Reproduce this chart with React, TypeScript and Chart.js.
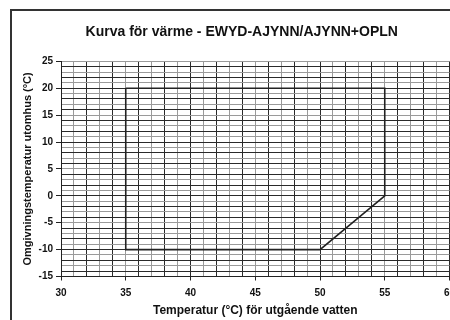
import React, { useEffect, useRef } from "react";
import { Chart, registerables } from "chart.js";

Chart.register(...registerables);

const chartTitle = "Kurva för värme - EWYD-AJYNN/AJYNN+OPLN";
const xAxisTitle = "Temperatur (°C) för utgående vatten";
const yAxisTitle = "Omgivningstemperatur utomhus (°C)";

// Operating envelope corners (outlet water temp, ambient temp)
const outletTemp = [35, 55, 55, 50, 35, 35];
const ambientTemp = [20, 20, 0, -10, -10, 20];

const xMin = 30;
const xMax = 60;
const yMin = -15;
const yMax = 25;
const labelStep = 5;

const FONT = "'Liberation Sans', Arial, sans-serif";

export default function App() {
  const canvasRef = useRef<HTMLCanvasElement | null>(null);

  useEffect(() => {
    const canvas = canvasRef.current;
    if (!canvas) return;
    const points = outletTemp.map((x, i) => ({ x, y: ambientTemp[i] }));
    const gridColor = (ctx: any) => {
      const v = ctx.tick ? ctx.tick.value : 0;
      return Math.abs(v) % 2 === 0 ? "#2a2a2a" : "#9a9a9a";
    };
    const tickColor = (ctx: any) => {
      const v = ctx.tick ? ctx.tick.value : 0;
      return v % labelStep === 0 ? "#222" : "rgba(0,0,0,0)";
    };
    const chart = new Chart(canvas, {
      type: "scatter",
      data: {
        datasets: [
          {
            data: points,
            showLine: true,
            borderColor: "#222",
            borderWidth: 1.6,
            pointRadius: 0,
            fill: false,
          },
        ],
      },
      options: {
        animation: false,
        responsive: false,
        devicePixelRatio: 1,
        layout: { padding: { left: 22, right: 22.5, top: 0, bottom: 0 } },
        plugins: {
          legend: { display: false },
          tooltip: { enabled: false },
          title: {
            display: true,
            text: chartTitle,
            color: "#111",
            font: { family: FONT, size: 14, weight: "bold" },
            padding: { top: 13.1, bottom: 20.4 },
          },
        },
        scales: {
          x: {
            type: "linear",
            min: xMin,
            max: xMax,
            afterFit: (s: any) => {
              s.height = 54.5;
            },
            ticks: {
              stepSize: 1,
              autoSkip: false,
              maxRotation: 0,
              padding: 6.5,
              color: "#111",
              font: { family: FONT, size: 10, weight: "bold" },
              callback: (v: any) => (Number(v) % labelStep === 0 ? String(v) : ""),
            },
            grid: {
              color: gridColor,
              lineWidth: 1,
              tickLength: 4,
              tickColor: tickColor,
            },
            border: { display: true, color: "#222", width: 1 },
            title: {
              display: true,
              text: xAxisTitle,
              color: "#111",
              font: { family: FONT, size: 12, weight: "bold" },
              padding: { top: 0, bottom: 12.8 },
            },
          },
          y: {
            type: "linear",
            min: yMin,
            max: yMax,
            afterFit: (s: any) => {
              s.width = 27;
            },
            ticks: {
              stepSize: 1,
              autoSkip: false,
              padding: 3,
              color: "#111",
              font: { family: FONT, size: 10, weight: "bold" },
              callback: (v: any) => (Number(v) % labelStep === 0 ? String(v) : ""),
            },
            grid: {
              color: gridColor,
              lineWidth: 1,
              tickLength: 5,
              tickColor: tickColor,
            },
            border: { display: true, color: "#222", width: 1 },
            title: {
              display: true,
              text: yAxisTitle,
              color: "#111",
              font: { family: FONT, size: 11, weight: "bold" },
              padding: { top: -13.1, bottom: 0 },
            },
          },
        },
      },
    });
    return () => chart.destroy();
  }, []);

  return (
    <div
      style={{
        position: "fixed",
        left: 0,
        top: 0,
        width: 450,
        height: 320,
        overflow: "hidden",
        background: "#fff",
      }}
    >
      <div
        style={{
          position: "absolute",
          left: 10,
          top: 9,
          width: 500,
          height: 340,
          border: "2px solid #333",
        }}
      >
        <canvas ref={canvasRef} width={460} height={320} style={{ display: "block" }} />
      </div>
    </div>
  );
}
